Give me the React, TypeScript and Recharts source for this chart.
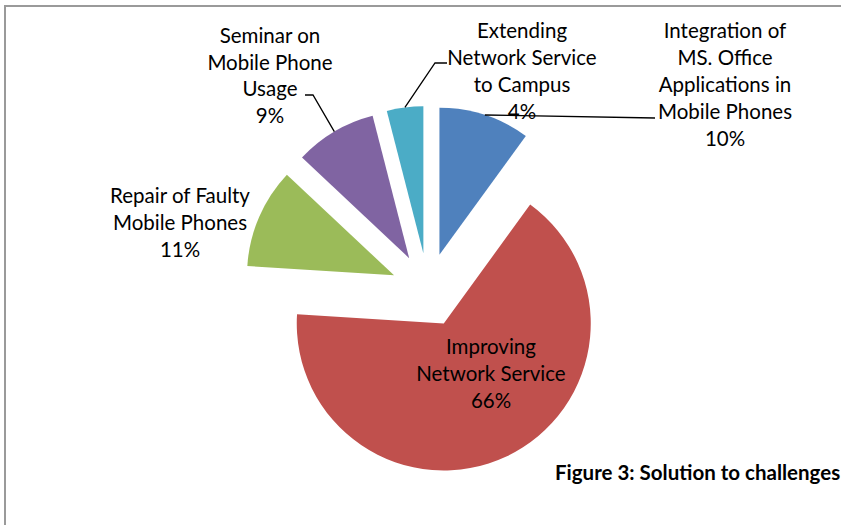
import React from 'react';
import { PieChart, Pie, Sector, Cell } from 'recharts';

const categories = [
  'Integration of MS. Office Applications in Mobile Phones',
  'Improving Network Service',
  'Repair of Faulty Mobile Phones',
  'Seminar on Mobile Phone Usage',
  'Extending Network Service to Campus',
];
const shares = [10, 66, 11, 9, 4];
const colors = ['#4F81BD', '#C0504D', '#9BBB59', '#8064A2', '#4BACC6'];
const labelLines = [
  ['Integration of', 'MS. Office', 'Applications in', 'Mobile Phones'],
  ['Improving', 'Network Service'],
  ['Repair of Faulty', 'Mobile Phones'],
  ['Seminar on', 'Mobile Phone', 'Usage'],
  ['Extending', 'Network Service', 'to Campus'],
];
const caption = 'Figure 3: Solution to challenges';

const data = categories.map((name, i) => ({ name, value: shares[i] }));

// layout
const W = 841;
const H = 525;
const CX = 428;
const CY = 290;
const R = 147;
const EXPLODE = 37;
const LINE_H = 26.8;
const FONT = 'Lato, "Open Sans", sans-serif';
// label block centre offset from pie centre
const labelOffsets: [number, number][] = [
  [297, -206],
  [63, 83],
  [-248, -68],
  [-158, -215],
  [94, -219.5],
];
// leader line points after the arc midpoint, relative to pie centre
const leaders: [number, number][][] = [
  [[227, -172]],
  [],
  [],
  [[-115, -195], [-123, -195]],
  [[7, -227], [19, -227]],
];

const RAD = Math.PI / 180;

const renderSlice = (props: any) => {
  const { cx, cy, midAngle } = props;
  const a = -midAngle * RAD;
  return (
    <Sector
      {...props}
      stroke="none"
      cx={cx + EXPLODE * Math.cos(a)}
      cy={cy + EXPLODE * Math.sin(a)}
    />
  );
};

const renderLabel = (props: any) => {
  const { midAngle, index, percent } = props;
  const cx = props.cx ?? CX;
  const cy = props.cy ?? CY;
  const r = props.outerRadius ?? R;
  const a = -midAngle * RAD;
  const ex = cx + EXPLODE * Math.cos(a);
  const ey = cy + EXPLODE * Math.sin(a);
  const sx = ex + r * Math.cos(a);
  const sy = ey + r * Math.sin(a);
  const lines = [...labelLines[index], `${Math.round(percent * 100)}%`];
  const [dx, dy] = labelOffsets[index];
  const lx = cx + dx;
  const top = cy + dy - ((lines.length - 1) * LINE_H) / 2;
  const pts = leaders[index];
  return (
    <g key={`lbl-${index}`}>
      {pts.length > 0 && (
        <polyline
          points={[[sx, sy], ...pts.map(([px, py]) => [cx + px, cy + py])]
            .map((p) => p.join(','))
            .join(' ')}
          fill="none"
          stroke="#000"
          strokeWidth={1.3}
        />
      )}
      <text
        x={lx}
        y={top}
        textAnchor="middle"
        fontFamily={FONT}
        fontSize={20.5}
        fill="#000"
      >
        {lines.map((ln, i) => (
          <tspan key={i} x={lx} y={top + i * LINE_H} dominantBaseline="central">
            {ln}
          </tspan>
        ))}
      </text>
    </g>
  );
};

export default function App() {
  return (
    <div
      style={{
        position: 'absolute',
        left: 0,
        top: 0,
        width: W,
        height: H,
        overflow: 'hidden',
        background: '#fff',
      }}
    >
      <div
        style={{
          position: 'absolute',
          left: 4,
          top: 5,
          width: W + 20,
          height: H + 20,
          borderLeft: '2px solid #9a9a9a',
          borderTop: '2px solid #9a9a9a',
        }}
      />
      <div style={{ position: 'absolute', left: 0, top: 0 }}>
        <PieChart width={W} height={H} margin={{ top: 0, right: 0, bottom: 0, left: 0 }}>
          <Pie
            data={data}
            dataKey="value"
            nameKey="name"
            cx={CX}
            cy={CY}
            outerRadius={R}
            startAngle={90}
            endAngle={-270}
            stroke="none"
            isAnimationActive={false}
            shape={renderSlice}
            inactiveShape={renderSlice}
            activeShape={renderSlice}
            label={renderLabel}
            labelLine={false}
          >
            {data.map((d, i) => (
              <Cell key={d.name} fill={colors[i]} />
            ))}
          </Pie>
          <text
            x={555}
            y={472}
            dominantBaseline="central"
            fontFamily={FONT}
            fontSize={20.5}
            fontWeight="bold"
            fill="#000"
          >
            {caption}
          </text>
        </PieChart>
      </div>
    </div>
  );
}
